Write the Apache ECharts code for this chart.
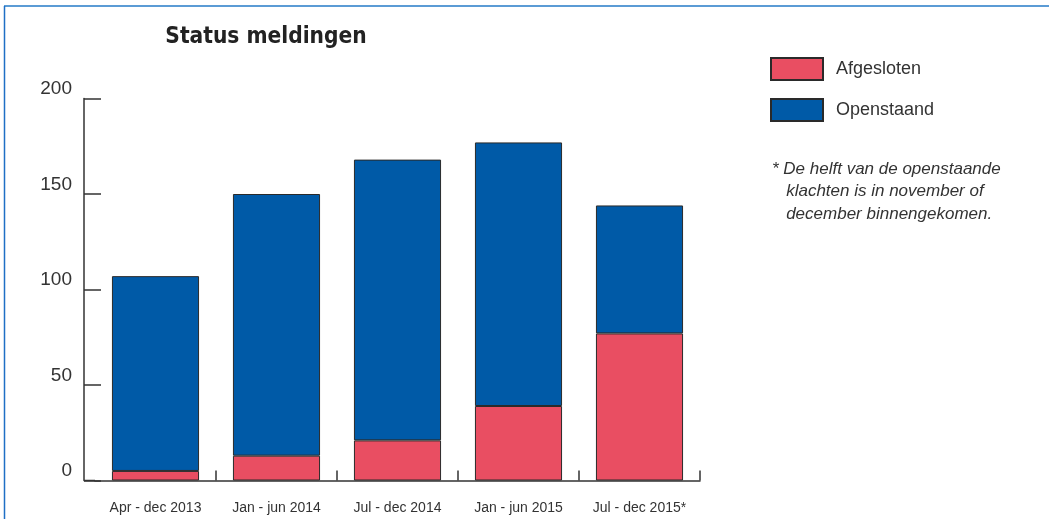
<!DOCTYPE html>
<html>
<head>
<meta charset="utf-8">
<script src="https://cdn.jsdelivr.net/npm/echarts@6/dist/echarts.min.js"></script>
<style>
html,body{margin:0;padding:0;background:#fff;}
#main{width:1049px;height:519px;}
</style>
</head>
<body>
<div id="main"></div>
<script>
const categories = ['Apr - dec 2013', 'Jan - jun 2014', 'Jul - dec 2014', 'Jan - jun 2015', 'Jul - dec 2015*'];
const afgesloten = [5, 13, 21, 39, 77];
const openstaand = [102, 137, 147, 138, 67];
const yTicks = { min: 0, max: 200, interval: 50 };
const titleText = 'Status meldingen';
const footnote = '* De helft van de openstaande\n   klachten is in november of\n   december binnengekomen.';

const chart = echarts.init(document.getElementById('main'), null, { renderer: 'canvas' });
const font = '"Liberation Sans", Arial, sans-serif';
const frame = [
  { type: 'line', shape: { x1: 4, y1: 6, x2: 1049, y2: 6 }, style: { stroke: '#5B9BD5', lineWidth: 2 } },
  { type: 'line', shape: { x1: 4.5, y1: 6, x2: 4.5, y2: 519 }, style: { stroke: '#1F6FC5', lineWidth: 1.5 } }
];
chart.setOption({
  animation: false,
  backgroundColor: '#ffffff',
  title: [
    {
      text: titleText,
      left: 261, top: 21, textAlign: 'center',
      textStyle: { fontFamily: '"DejaVu Sans Condensed", "Liberation Sans Narrow", sans-serif', fontWeight: 'bold', fontSize: 22.5, color: '#222' }
    },
    {
      text: footnote,
      left: 767, top: 153,
      textStyle: { fontFamily: font, fontStyle: 'italic', fontWeight: 'normal', fontSize: 17, lineHeight: 22.5, color: '#333' }
    }
  ],
  legend: {
    orient: 'vertical',
    left: 765, top: 52,
    itemWidth: 52, itemHeight: 22, itemGap: 17,
    icon: 'rect',
    textStyle: { fontFamily: font, fontSize: 18, color: '#333', padding: [0, 0, 0, 8] },
    data: ['Afgesloten', 'Openstaand']
  },
  grid: { left: 95, right: 349, top: 98.5, bottom: 38.5, containLabel: false },
  xAxis: {
    type: 'category',
    data: categories,
    axisLine: { show: true, lineStyle: { color: '#333', width: 1.5 } },
    axisTick: { show: true, inside: true, length: 10, alignWithLabel: false, interval: function (i) { return i !== 0; }, lineStyle: { color: '#333', width: 1.5 } },
    axisLabel: { interval: 0, fontFamily: font, fontSize: 14, color: '#333', margin: 21 }
  },
  yAxis: {
    type: 'value',
    min: yTicks.min, max: yTicks.max, interval: yTicks.interval,
    offset: 11,
    splitLine: { show: false },
    axisLine: { show: true, lineStyle: { color: '#333', width: 1.5 } },
    axisTick: { show: true, inside: true, length: 17, lineStyle: { color: '#333', width: 1.5 } },
    axisLabel: { fontFamily: font, fontSize: 19, color: '#333', margin: 12, verticalAlign: 'bottom' }
  },
  series: [
    {
      name: 'Afgesloten', type: 'bar', stack: 'total', data: afgesloten,
      barCategoryGap: '28%',
      itemStyle: { color: '#E94E62', borderColor: '#2a2a2a', borderWidth: 1 }
    },
    {
      name: 'Openstaand', type: 'bar', stack: 'total', data: openstaand,
      barCategoryGap: '28%',
      itemStyle: { color: '#005AA7', borderColor: '#2a2a2a', borderWidth: 1 }
    }
  ],
  graphic: frame
});
// extend x axis line to the offset y axis
const x0 = chart.convertToPixel({ gridIndex: 0 }, [0, 0]);
chart.setOption({
  graphic: frame.concat([
    { type: 'line', shape: { x1: 95 - 11, y1: x0[1], x2: 95, y2: x0[1] }, style: { stroke: '#333', lineWidth: 1.5 } }
  ])
});
</script>
</body>
</html>
